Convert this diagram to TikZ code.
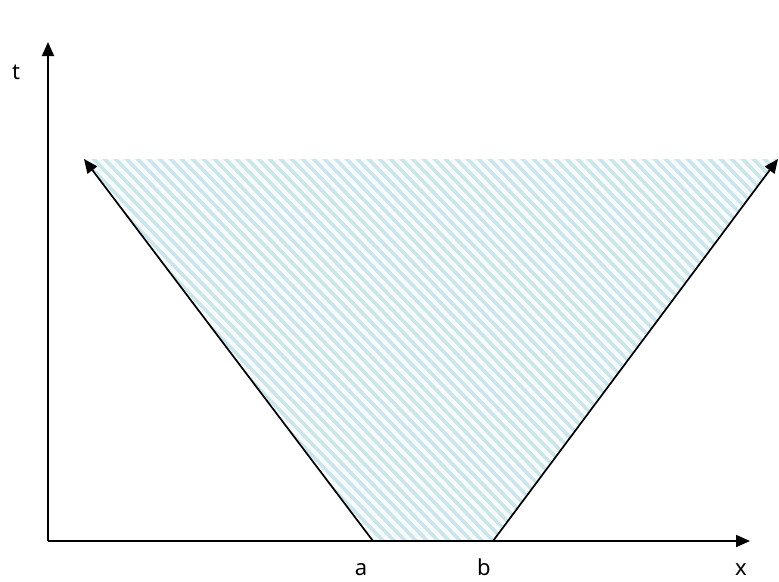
\documentclass[tikz,border=0pt]{standalone}
\usepackage{fontspec}
\setmainfont{Noto Sans}
\usetikzlibrary{arrows.meta}
\definecolor{hatch}{RGB}{204,228,236}
\definecolor{hatchbg}{RGB}{246,251,252}
\begin{document}
\begin{tikzpicture}[x=1pt,y=-1pt,
  axis/.style={line width=2pt,-{Triangle[length=14pt,width=12pt]}},
  ray/.style={line width=1.7pt,-{Triangle[length=14pt,width=12pt]}},
  lbl/.style={font=\fontsize{22}{26}\selectfont,inner sep=0pt,anchor=base}]
\useasboundingbox (0,0) rectangle (779,581);
\coordinate (O) at (48,541);
\coordinate (T) at (48,42);
\coordinate (X) at (750,541);
\coordinate (A) at (373,541);
\coordinate (B) at (493,541);
\coordinate (L) at (84,159);
\coordinate (R) at (778,159);
\begin{scope}
  \clip (A) -- (B) -- (R) -- (L) -- cycle;
  \fill[hatchbg] (0,0) rectangle (779,581);
  \foreach \i in {-700,-689,...,800}
    \draw[hatch,line width=3.5pt] (\i,100) -- (\i+480,600);
\end{scope}
\draw[axis] (O) -- (T);
\draw[axis] (O) -- (X);
\draw[ray] (A) -- (L);
\draw[ray] (B) -- (R);
\node[lbl] (tl) at (16,79) {t};
\node[lbl] (al) at (361,575) {a};
\node[lbl] (bl) at (484,575) {b};
\node[lbl] (xl) at (741,575) {x};
\end{tikzpicture}
\end{document}
